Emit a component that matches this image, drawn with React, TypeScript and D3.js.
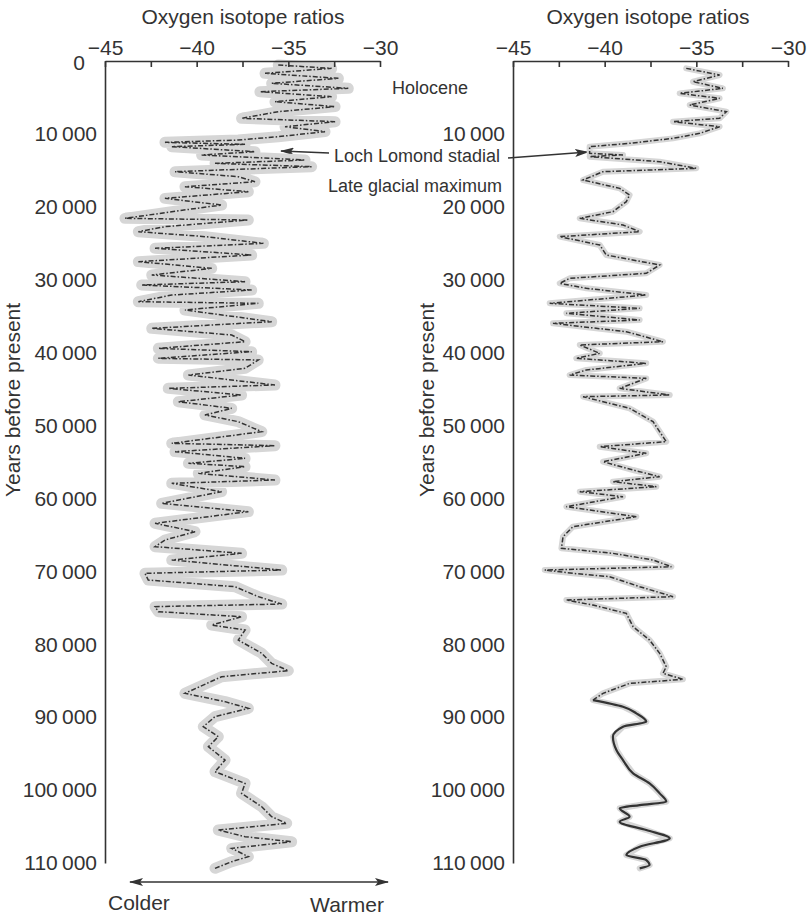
import React, { useEffect, useRef } from 'react';
import * as d3 from 'd3';

// left core: years before present / oxygen isotope ratio
const leftYears = [
  550, 1010, 1690, 2380, 3060, 3750, 4210, 4890, 5580, 6260, 6950, 7860, 8320, 9010, 9690,
  10380, 10840, 11160, 11430, 11750, 12440, 12890, 13580, 14040, 14490, 15180, 15870, 16550,
  17240, 17920, 18840, 19750, 20670, 21580, 21810, 22720, 23410, 24090, 25010, 25690, 26610,
  27520, 28440, 29350, 30270, 30720, 31410, 32100, 33010, 33240, 34150, 35750, 36670, 37580,
  38500, 39410, 39870, 40780, 41010, 42150, 43070, 44440, 44900, 45810, 46730, 47640, 48550,
  49470, 50840, 52440, 52760, 53580, 54500, 55180, 55640, 56560, 57470, 57930, 59070, 60670,
  61810, 63410, 64560, 65700, 66610, 67530, 68440, 69820, 70270, 71190, 72100, 73470, 74480,
  74840, 75530, 76220, 77360, 78040, 79420, 81240, 82620, 83620, 84450, 86730, 87870, 88790,
  89930, 91300, 92670, 94050, 95880, 97480, 99080, 100450, 102280, 103650, 104560, 105480,
  106390, 107080, 107990, 109130, 109820, 110730,
];
const leftValues = [
  -35.55, -32.64, -36.27, -32.27, -35.91, -31.73, -36.55, -32.64, -35.73, -32.45, -35.55, -37.55,
  -32.45, -35.18, -33.0, -35.55, -37.73, -41.73, -37.36, -41.36, -36.82, -39.73, -34.09, -39.0,
  -33.73, -41.18, -37.73, -36.82, -40.64, -37.18, -41.73, -38.64, -41.36, -43.91, -37.18, -41.73,
  -43.18, -39.55, -36.36, -42.27, -37.0, -43.18, -39.18, -42.45, -37.36, -43.0, -37.0, -41.36,
  -43.18, -36.64, -40.64, -35.91, -42.45, -38.09, -37.36, -42.09, -37.0, -42.09, -36.64, -37.36,
  -40.45, -35.73, -41.55, -37.55, -41.0, -38.09, -39.55, -37.73, -36.45, -41.36, -35.73, -41.18,
  -37.36, -40.45, -37.36, -39.91, -35.73, -41.36, -38.64, -41.91, -37.18, -42.27, -40.09, -41.73,
  -42.27, -37.55, -41.36, -35.36, -42.82, -42.64, -37.91, -36.64, -35.36, -42.27, -42.09, -37.55,
  -39.18, -37.36, -37.73, -36.45, -35.91, -35.0, -38.64, -40.64, -38.45, -37.18, -39.0, -39.64,
  -38.82, -39.36, -38.45, -39.0, -37.36, -37.55, -36.45, -35.91, -35.09, -38.82, -37.36, -34.82,
  -38.09, -37.18, -38.09, -39.0,
];

// right core
const rightYears = [
  1010, 1920, 2840, 3750, 4440, 5120, 6040, 6950, 7860, 8320, 9010, 9920, 10610, 11290, 11750,
  12660, 12890, 13120, 13810, 14720, 15180, 16320, 17470, 18380, 19290, 20670, 21580, 22490,
  23410, 24090, 25240, 26610, 27980, 29120, 29810, 30500, 31180, 32100, 33240, 33920, 34610,
  35520, 35980, 37130, 38500, 38950, 40100, 40780, 41470, 42380, 43070, 43530, 44900, 45810,
  46040, 47640, 49470, 52210, 52900, 53810, 54960, 56100, 57010, 57700, 58390, 59070, 59760,
  61130, 62500, 63870, 65240, 66840, 67530, 68440, 69360, 69820, 70270, 70730, 72100, 73470,
  73930, 74620, 75760, 77590, 79420, 81240, 83070, 83990, 84810, 85360, 86730, 87650, 88560,
  89480, 90620, 91300, 92670, 94500, 95880, 97700, 99080, 100450, 101590, 102050, 102500,
  103650, 104330, 105480, 106620, 107760, 108910, 109590, 110280, 110730,
];
const rightValues = [
  -35.55, -33.73, -35.18, -33.55, -35.91, -33.73, -35.36, -33.36, -33.73, -36.27, -33.73, -34.82,
  -36.27, -38.64, -40.82, -40.82, -39.0, -40.82, -37.0, -35.0, -40.09, -41.18, -39.18, -38.64,
  -38.82, -39.55, -41.36, -39.0, -38.09, -42.45, -40.27, -39.91, -37.0, -37.73, -41.91, -42.45,
  -41.0, -37.73, -43.0, -38.09, -42.09, -38.09, -42.82, -38.82, -36.82, -41.36, -40.27, -41.55,
  -37.73, -41.0, -41.91, -37.73, -39.18, -36.45, -41.18, -38.64, -37.36, -36.64, -40.27, -37.73,
  -40.09, -38.45, -37.0, -39.55, -37.18, -41.36, -39.0, -42.09, -38.27, -41.73, -42.27, -42.36,
  -39.55, -37.36, -36.36, -43.27, -41.73, -39.73, -38.09, -36.27, -42.09, -40.64, -38.82, -38.45,
  -37.55, -37.0, -36.64, -36.82, -35.73, -38.64, -40.09, -40.64, -39.0, -38.27, -37.73, -39.0,
  -39.55, -39.36, -39.0, -38.45, -37.55, -37.0, -36.64, -38.09, -39.18, -38.64, -39.18, -37.73,
  -36.45, -38.09, -38.82, -37.73, -37.55, -38.09,
];

const isotopeTicks = [-45, -42.5, -40, -37.5, -35, -32.5, -30];
const yearTicksLeft = [0, 10000, 20000, 30000, 40000, 50000, 60000, 70000, 80000, 90000, 100000, 110000];
const yearTicksRight = [10000, 20000, 30000, 40000, 50000, 60000, 70000, 80000, 90000, 100000, 110000];

const FONT = "'Liberation Sans', Arial, Helvetica, sans-serif";
const INK = '#333';

const panels = [
  { x0: 105, years: leftYears, values: leftValues, yearTicks: yearTicksLeft, band: 11, titleX: 243, yTitleX: 20, smoothFrom: null },
  { x0: 513, years: rightYears, values: rightValues, yearTicks: yearTicksRight, band: 6, titleX: 648, yTitleX: 434, smoothFrom: 87000 },
];

const fmtYear = (d: number) => (d === 0 ? '0' : d3.format(',')(d).replace(',', '\u2009'));
const fmtIso = (d: number) => (d % 5 === 0 ? '\u2212' + Math.abs(d) : '');

export default function App() {
  const ref = useRef<SVGSVGElement>(null);

  useEffect(() => {
    const svg = d3.select(ref.current);
    svg.selectAll('.panel').remove();

    panels.forEach((p) => {
      const x = d3.scaleLinear().domain([-45, -30]).range([p.x0, p.x0 + 275]);
      const y = d3.scaleLinear().domain([0, 110000]).range([61, 863]);
      const g = svg.append('g').attr('class', 'panel');
      const pts: [number, number][] = p.years.map((yr, i) => [yr, p.values[i]]);
      const line = d3.line<[number, number]>().x((d) => x(d[1])).y((d) => y(d[0]));

      // grey halo round the trace
      g.append('path')
        .attr('d', line(pts))
        .attr('fill', 'none')
        .attr('stroke', '#d6d6d6')
        .attr('stroke-width', p.band)
        .attr('stroke-linejoin', 'round')
        .attr('stroke-linecap', 'round');

      const rough = p.smoothFrom ? pts.filter((d) => d[0] <= p.smoothFrom + 1000) : pts;
      g.append('path')
        .attr('d', line(rough))
        .attr('fill', 'none')
        .attr('stroke', INK)
        .attr('stroke-width', 1.5)
        .attr('stroke-dasharray', '5 2 1.5 2');

      if (p.smoothFrom) {
        const smooth = pts.filter((d) => d[0] >= p.smoothFrom);
        g.append('path')
          .attr('d', d3.line<[number, number]>().x((d) => x(d[1])).y((d) => y(d[0])).curve(d3.curveMonotoneY)(smooth))
          .attr('fill', 'none')
          .attr('stroke', INK)
          .attr('stroke-width', 2.2);
      }

      const xAxis = d3.axisTop(x).tickValues(isotopeTicks).tickSize(-6).tickSizeOuter(0).tickPadding(6).tickFormat(fmtIso as any);
      const gx = g.append('g').attr('transform', 'translate(0,61)').call(xAxis);
      const yAxis = d3.axisLeft(y).tickValues(p.yearTicks).tickSize(0).tickSizeOuter(0).tickPadding(8).tickFormat(fmtYear as any);
      const gy = g.append('g').attr('transform', `translate(${p.x0},0)`).call(yAxis);

      [gx, gy].forEach((a) => {
        a.attr('font-family', FONT).attr('font-size', 21);
        a.selectAll('path, line').attr('stroke', INK).attr('stroke-width', 1.6);
        a.selectAll('text').attr('fill', INK);
      });
      // the "0" sits tucked beside the -45 label
      gy.selectAll<SVGTextElement, number>('text').filter((d) => d === 0).attr('x', -20).attr('dy', '0.4em');

      g.append('text')
        .attr('x', p.titleX)
        .attr('y', 24)
        .attr('text-anchor', 'middle')
        .attr('font-family', FONT)
        .attr('font-size', 21)
        .attr('fill', INK)
        .text('Oxygen isotope ratios');

      g.append('text')
        .attr('transform', `translate(${p.yTitleX},400) rotate(-90)`)
        .attr('text-anchor', 'middle')
        .attr('font-family', FONT)
        .attr('font-size', 21)
        .attr('fill', INK)
        .text('Years before present');
    });
  }, []);

  return (
    <svg ref={ref} width={808} height={915} style={{ position: 'absolute', left: 0, top: 0, background: '#fff' }}>
      <defs>
        <marker id="head" viewBox="0 0 14 8" refX="13" refY="4" markerWidth="14" markerHeight="8" markerUnits="userSpaceOnUse" orient="auto-start-reverse">
          <path d="M0,0 L14,4 L0,8 L3,4 Z" fill={INK} />
        </marker>
      </defs>
      <g fontFamily={FONT} fontSize={18} fill={INK}>
        <text x={392} y={94}>Holocene</text>
        <text x={334} y={162}>Loch Lomond stadial</text>
        <text x={328} y={192}>Late glacial maximum</text>
      </g>
      <line x1={329} y1={153} x2={281} y2={151} stroke={INK} strokeWidth={1.5} markerEnd="url(#head)" />
      <line x1={508} y1={158} x2={588} y2={152} stroke={INK} strokeWidth={1.5} markerEnd="url(#head)" />
      <line x1={130} y1={882} x2={388} y2={882} stroke={INK} strokeWidth={1.6} markerStart="url(#head)" markerEnd="url(#head)" />
      <text x={108} y={910} fontFamily={FONT} fontSize={21} fill={INK}>Colder</text>
      <text x={384} y={912} textAnchor="end" fontFamily={FONT} fontSize={21} fill={INK}>Warmer</text>
    </svg>
  );
}
